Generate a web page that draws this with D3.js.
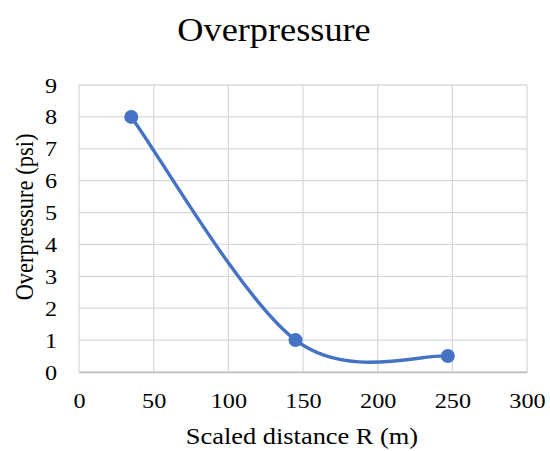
<!DOCTYPE html>
<html><head><meta charset="utf-8">
<script src="https://cdn.jsdelivr.net/npm/d3@7"></script>
<style>body{margin:0;background:#fff}svg{display:block}</style>
</head><body><div id="chart"></div>
<script>
const xValues = [35, 145, 247];
const yValues = [8, 1, 0.5];
const xTicks = [0, 50, 100, 150, 200, 250, 300];
const yTicks = [0, 1, 2, 3, 4, 5, 6, 7, 8, 9];
const titleText = "Overpressure";
const xLabel = "Scaled distance R (m)";
const yLabel = "Overpressure (psi)";

const FONT = "'Liberation Serif','Times New Roman',Times,serif";
const SX = 1.1; // horizontal stretch of the reference text
const W = 550, H = 451;
const m = {left: 79, right: 23, top: 85, bottom: 79};
const svg = d3.select("#chart").append("svg").attr("width", W).attr("height", H);
const x = d3.scaleLinear().domain([0, 300]).range([m.left, W - m.right]);
const y = d3.scaleLinear().domain([0, 9]).range([H - m.bottom, m.top]);

// gridlines
svg.append("g").selectAll("line").data(yTicks).join("line")
  .attr("x1", m.left).attr("x2", W - m.right)
  .attr("y1", d => y(d)).attr("y2", d => y(d))
  .attr("stroke", "#d9d9d9").attr("stroke-width", 1.3);
svg.append("g").selectAll("line").data(xTicks).join("line")
  .attr("y1", m.top).attr("y2", H - m.bottom)
  .attr("x1", d => x(d)).attr("x2", d => x(d))
  .attr("stroke", "#d9d9d9").attr("stroke-width", 1.3);

// axes
const xAxis = svg.append("g").attr("transform", `translate(0,${H - m.bottom})`)
  .call(d3.axisBottom(x).tickValues(xTicks).tickSize(0).tickPadding(20));
xAxis.attr("font-family", FONT).attr("font-size", 22);
xAxis.select(".domain").attr("stroke", "#bfbfbf").attr("stroke-width", 1.3);
xAxis.selectAll("text").attr("fill", "#000").attr("transform", `scale(${SX},1)`);
const yAxis = svg.append("g").attr("transform", `translate(${m.left},0)`)
  .call(d3.axisLeft(y).tickValues(yTicks).tickSize(0).tickPadding(20));
yAxis.attr("font-family", FONT).attr("font-size", 22);
yAxis.select(".domain").remove();
yAxis.selectAll("text").attr("fill", "#000").attr("transform", `scale(${SX},1)`);

// Excel-style smoothed line (Bezier, 1/6 tangents, duplicated end points)
const P = xValues.map((v, i) => [x(v), y(yValues[i])]);
const p = d3.path();
p.moveTo(P[0][0], P[0][1]);
for (let i = 0; i < P.length - 1; i++) {
  const a = P[Math.max(i - 1, 0)], b = P[i], c = P[i + 1], d = P[Math.min(i + 2, P.length - 1)];
  p.bezierCurveTo(b[0] + (c[0] - a[0]) / 6, b[1] + (c[1] - a[1]) / 6,
                  c[0] - (d[0] - b[0]) / 6, c[1] - (d[1] - b[1]) / 6, c[0], c[1]);
}
svg.append("path").attr("d", p.toString())
  .attr("fill", "none").attr("stroke", "#4472c4").attr("stroke-width", 3.4)
  .attr("stroke-linecap", "round");
svg.append("g").selectAll("circle").data(xValues).join("circle")
  .attr("cx", d => x(d)).attr("cy", (d, i) => y(yValues[i])).attr("r", 7)
  .attr("fill", "#4472c4");

// titles
svg.append("text").attr("transform", `translate(274,41) scale(${SX},1)`).attr("text-anchor", "middle")
  .attr("font-family", FONT).attr("font-size", 33).attr("fill", "#000").text(titleText);
svg.append("text").attr("transform", `translate(302,444) scale(${SX},1)`).attr("text-anchor", "middle")
  .attr("font-family", FONT).attr("font-size", 24).attr("fill", "#000").text(xLabel);
svg.append("text").attr("transform", `translate(33,217) rotate(-90) scale(1,${SX})`).attr("text-anchor", "middle")
  .attr("font-family", FONT).attr("font-size", 22.5).attr("fill", "#000").text(yLabel);
</script></body></html>
